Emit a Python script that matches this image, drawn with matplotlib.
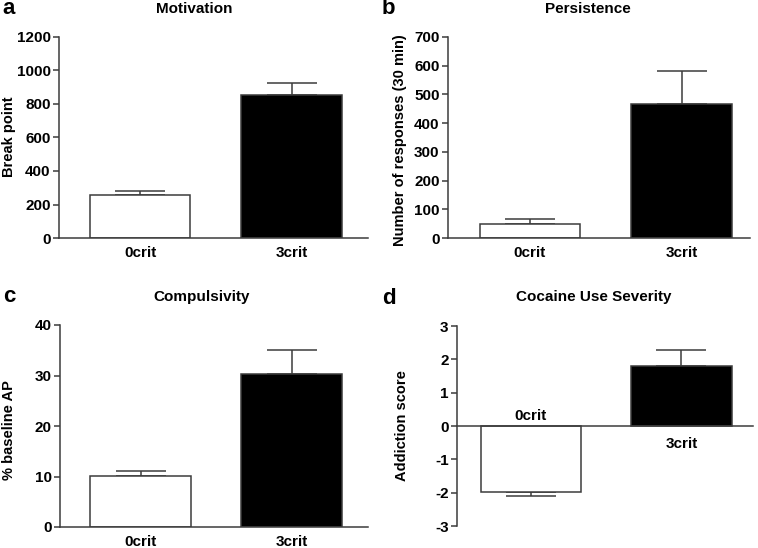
import matplotlib
matplotlib.use("Agg")
import matplotlib.pyplot as plt

plt.rcParams['font.family'] = ['Liberation Sans', 'DejaVu Sans']
plt.rcParams['font.weight'] = 'bold'

categories = ['0crit', '3crit']
motivation_mean = [258, 856]
motivation_sem = [24, 71]
persistence_mean = [50, 467]
persistence_sem = [15, 113]
compulsivity_mean = [10.05, 30.2]
compulsivity_sem = [1.1, 4.8]
severity_mean = [-1.98, 1.80]
severity_sem = [0.12, 0.48]

titles = ['Motivation', 'Persistence', 'Compulsivity', 'Cocaine Use Severity']
letters = ['a', 'b', 'c', 'd']
ylabels = ['Break point', 'Number of responses (30 min)', '% baseline AP', 'Addiction score']

W, H = 758, 548
fig = plt.figure(figsize=(W / 100, H / 100), dpi=100)

LC = '#3c3c3c'
LW = 1.1
FS = 11

def px_axes(l, r, t, b):
    return fig.add_axes([l / W, 1 - b / H, (r - l) / W, (b - t) / H])

specs = [
    dict(rect=(59, 368, 37, 238), xlim=(-0.535, 1.505), ylim=(0, 1200), yt=[0, 200, 400, 600, 800, 1000, 1200],
         mean=motivation_mean, sem=motivation_sem, title_xy=(194, 9), letter_xy=(2, 9), ylab_xy=(9, 137)),
    dict(rect=(448, 750, 37, 238), xlim=(-0.541, 1.452), ylim=(0, 700), yt=list(range(0, 701, 100)),
         mean=persistence_mean, sem=persistence_sem, title_xy=(588, 9), letter_xy=(382, 9), ylab_xy=(400, 140)),
    dict(rect=(60, 368, 325, 527), xlim=(-0.533, 1.505), ylim=(0, 40), yt=[0, 10, 20, 30, 40],
         mean=compulsivity_mean, sem=compulsivity_sem, title_xy=(202, 297), letter_xy=(3, 297), ylab_xy=(9, 430)),
    dict(rect=(457, 753, 326, 526), xlim=(-0.49, 1.475), ylim=(-3, 3), yt=[-3, -2, -1, 0, 1, 2, 3],
         mean=severity_mean, sem=severity_sem, title_xy=(594, 297), letter_xy=(382, 299), ylab_xy=(402, 426)),
]

for i, s in enumerate(specs):
    ax = px_axes(*s['rect'])
    x = [0, 1]
    ax.bar(x, s['mean'], width=0.665, color=['white', 'black'], edgecolor=LC, linewidth=LW, zorder=2)
    for xi, m, e in zip(x, s['mean'], s['sem']):
        if m >= 0:
            yerr = [[0], [e]]
        else:
            yerr = [[e], [0]]
        ax.errorbar([xi], [m], yerr=yerr, fmt='none', ecolor=LC, elinewidth=LW, capsize=18,
                    capthick=LW, zorder=1)
    ax.set_xlim(*s['xlim'])
    ax.set_ylim(*s['ylim'])
    ax.set_yticks(s['yt'])
    ax.set_yticklabels([str(v) for v in s['yt']], fontsize=FS, fontweight='bold')
    for sp in ['top', 'right']:
        ax.spines[sp].set_visible(False)
    for sp in ['left', 'bottom']:
        ax.spines[sp].set_color(LC)
        ax.spines[sp].set_linewidth(LW)
    ax.tick_params(axis='y', length=4, width=LW, color=LC, pad=2)
    ax.set_facecolor('none')
    if i < 3:
        ax.set_xticks(x)
        ax.set_xticklabels(categories, fontsize=FS, fontweight='bold')
        ax.tick_params(axis='x', length=0, pad=6)
    else:
        ax.spines['bottom'].set_position(('data', 0))
        ax.set_xticks([])
        ax.text(0, 0.09, categories[0], ha='center', va='bottom', fontsize=FS, fontweight='bold')
        ax.text(1, -0.33, categories[1], ha='center', va='top', fontsize=FS, fontweight='bold')
    ax.set_ylabel(ylabels[i], fontsize=10.5, fontweight='bold')
    ax.yaxis.set_label_coords(s['ylab_xy'][0] / W, 1 - s['ylab_xy'][1] / H, transform=fig.transFigure)
    ax.yaxis.label.set_va('center')
    fig.text(s['title_xy'][0] / W, 1 - s['title_xy'][1] / H, titles[i], ha='center', va='center',
             fontsize=FS, fontweight='bold')
    fig.text(s['letter_xy'][0] / W, 1 - s['letter_xy'][1] / H, letters[i], ha='left', va='center',
             fontsize=16, fontweight='bold')

fig.savefig('out.png', dpi=100, facecolor='white')
